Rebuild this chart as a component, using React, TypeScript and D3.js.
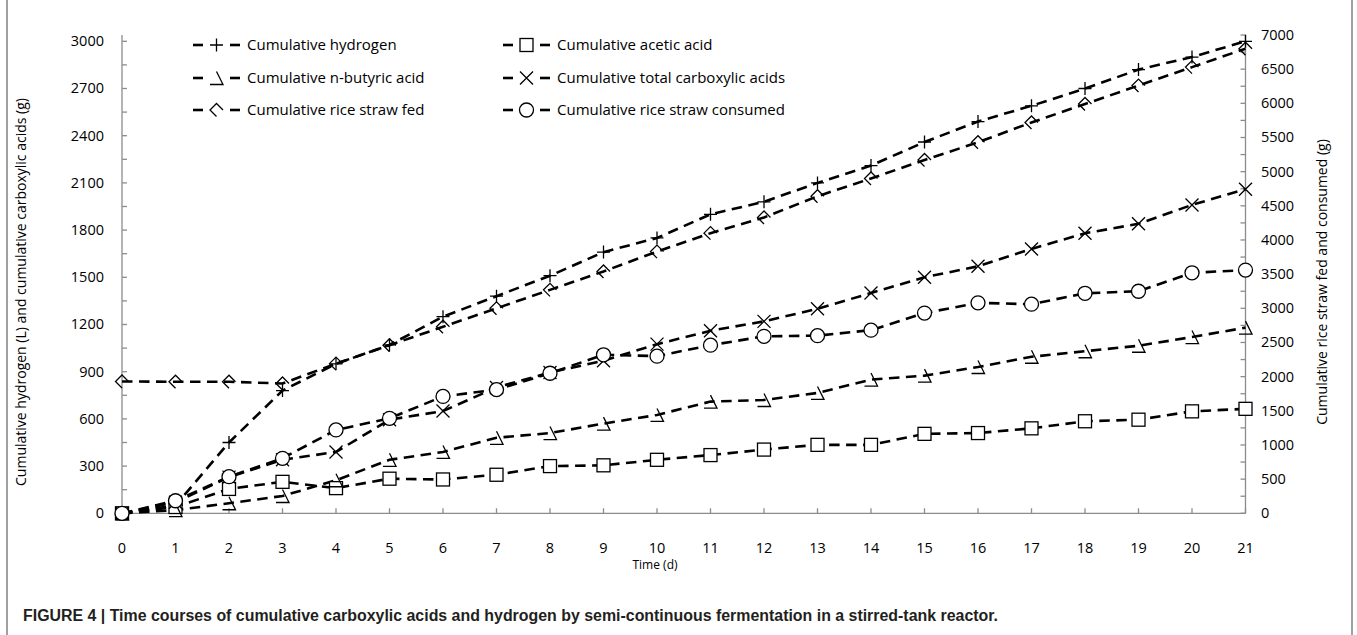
import React from 'react';
import * as d3 from 'd3';

// Time (d)
const days = [0, 1, 2, 3, 4, 5, 6, 7, 8, 9, 10, 11, 12, 13, 14, 15, 16, 17, 18, 19, 20, 21];

// left axis series
const hydrogen = [0, 50, 450, 780, 950, 1070, 1250, 1380, 1510, 1660, 1750, 1900, 1980, 2100, 2210, 2360, 2490, 2590, 2700, 2820, 2900, 3000];
const aceticAcid = [0, 40, 155, 200, 160, 220, 215, 245, 300, 305, 340, 370, 405, 435, 435, 505, 510, 540, 585, 595, 648, 664];
const butyricAcid = [0, 20, 64, 110, 210, 340, 390, 480, 510, 570, 625, 710, 720, 765, 850, 875, 930, 995, 1030, 1065, 1120, 1180];
const totalAcids = [0, 70, 230, 340, 390, 595, 650, 800, 895, 970, 1075, 1160, 1220, 1300, 1400, 1500, 1570, 1680, 1780, 1840, 1960, 2060];

// right axis series
const strawFed = [1930, 1925, 1925, 1900, 2190, 2460, 2730, 3000, 3270, 3540, 3830, 4100, 4330, 4640, 4900, 5170, 5430, 5720, 5990, 6260, 6530, 6800];
const strawConsumed = [0, 184, 536, 805, 1220, 1390, 1710, 1810, 2050, 2320, 2300, 2460, 2590, 2600, 2680, 2930, 3080, 3060, 3220, 3250, 3520, 3560];

const leftTicks = [0, 300, 600, 900, 1200, 1500, 1800, 2100, 2400, 2700, 3000];
const rightTicks = [0, 500, 1000, 1500, 2000, 2500, 3000, 3500, 4000, 4500, 5000, 5500, 6000, 6500, 7000];

type Marker = 'plus' | 'square' | 'triangle' | 'cross' | 'diamond' | 'circle';

const series: { name: string; values: number[]; axis: 'left' | 'right'; marker: Marker }[] = [
  { name: 'Cumulative hydrogen', values: hydrogen, axis: 'left', marker: 'plus' },
  { name: 'Cumulative acetic acid', values: aceticAcid, axis: 'left', marker: 'square' },
  { name: 'Cumulative n-butyric acid', values: butyricAcid, axis: 'left', marker: 'triangle' },
  { name: 'Cumulative total carboxylic acids', values: totalAcids, axis: 'left', marker: 'cross' },
  { name: 'Cumulative rice straw fed', values: strawFed, axis: 'right', marker: 'diamond' },
  { name: 'Cumulative rice straw consumed', values: strawConsumed, axis: 'right', marker: 'circle' },
];

const W = 1357;
const H = 635;
const FONT = '"Open Sans", "DejaVu Sans", sans-serif';
const AXIS = '#8c8c8c';

const x = d3.scaleLinear().domain([0, 21]).range([122, 1245.5]);
const yL = d3.scaleLinear().domain([0, 3040]).range([513.3, 35]);
const yR = d3.scaleLinear().domain([0, 7000]).range([513.3, 35]);

const MarkerShape = ({ type, cx, cy }: { type: Marker; cx: number; cy: number }) => {
  const s = 6.5;
  const common = { stroke: '#000', strokeWidth: 1.3 };
  switch (type) {
    case 'plus':
      return <path d={`M${cx - s},${cy}H${cx + s}M${cx},${cy - s}V${cy + s}`} fill="none" {...common} />;
    case 'cross':
      return <path d={`M${cx - s},${cy - s}L${cx + s},${cy + s}M${cx - s},${cy + s}L${cx + s},${cy - s}`} fill="none" {...common} />;
    case 'square':
      return <rect x={cx - s} y={cy - s} width={2 * s} height={2 * s} fill="#fff" {...common} />;
    case 'circle':
      return <circle cx={cx} cy={cy} r={s + 0.5} fill="#fff" {...common} />;
    case 'triangle':
      return <path d={`M${cx},${cy - s}L${cx + s},${cy + s}L${cx - s},${cy + s}`} fill="none" {...common} />;
    case 'diamond':
      return <path d={`M${cx},${cy + s}L${cx - s},${cy}L${cx},${cy - s}L${cx + s},${cy}`} fill="none" {...common} />;
  }
  return null;
};

const App = () => {
  const line = d3.line<number>().x((_, i) => x(days[i]));

  const leftMinor = d3.range(0, 3001, 150);
  const rightMinor = d3.range(0, 7001, 250);

  const legendCols = [193, 503];
  const legendRows = [45, 78, 110];

  return (
    <div style={{ position: 'absolute', left: 0, top: 0 }}>
      <svg width={W} height={H} style={{ display: 'block', background: '#fff' }}>
        {/* frame */}
        <line x1={7} x2={7} y1={0} y2={H} stroke="#a0a0a0" strokeWidth={2} />
        <line x1={1352} x2={1352} y1={0} y2={H} stroke="#a0a0a0" strokeWidth={2} />

        {/* axes */}
        <g stroke={AXIS} strokeWidth={1.3} fill="none">
          <line x1={x(0)} x2={x(21)} y1={yL(0)} y2={yL(0)} />
          <line x1={x(0)} x2={x(0)} y1={yL(0)} y2={35} />
          <line x1={x(21)} x2={x(21)} y1={yR(0)} y2={yR(7000)} />
          {days.map((d) => (
            <line key={'xt' + d} x1={x(d)} x2={x(d)} y1={yL(0)} y2={yL(0) - 5} />
          ))}
          {leftMinor.map((v) => (
            <line key={'lt' + v} x1={x(0)} x2={x(0) + 5} y1={yL(v)} y2={yL(v)} />
          ))}
          {rightMinor.map((v) => (
            <line key={'rt' + v} x1={x(21)} x2={x(21) - 5} y1={yR(v)} y2={yR(v)} />
          ))}
        </g>

        {/* tick labels */}
        <g fontFamily={FONT} fontSize={14.5} fill="#000">
          {days.map((d) => (
            <text key={'xl' + d} x={x(d)} y={553} textAnchor="middle">{d}</text>
          ))}
          {leftTicks.map((v) => (
            <text key={'ll' + v} x={104} y={yL(v) + 5} textAnchor="end">{v}</text>
          ))}
          {rightTicks.map((v) => (
            <text key={'rl' + v} x={1261} y={yR(v) + 5} textAnchor="start">{v}</text>
          ))}
        </g>

        {/* axis titles */}
        <g fontFamily={FONT} fontSize={14} fill="#000">
          <text x={655} y={569} fontSize={12} textAnchor="middle">Time (d)</text>
          <text transform={`translate(26,${292}) rotate(-90)`} textAnchor="middle">
            Cumulative hydrogen (L) and cumulative carboxylic acids (g)
          </text>
          <text transform={`translate(1327,${282}) rotate(-90)`} textAnchor="middle">
            Cumulative rice straw fed and consumed (g)
          </text>
        </g>

        {/* series lines */}
        {series.map((s) => {
          const y = s.axis === 'left' ? yL : yR;
          return (
            <path
              key={'line' + s.name}
              d={line.y((v) => y(v))(s.values) || ''}
              fill="none"
              stroke="#000"
              strokeWidth={2.6}
              strokeDasharray="10.5,6.5"
            />
          );
        })}

        {/* series markers */}
        {series.map((s) => {
          const y = s.axis === 'left' ? yL : yR;
          return (
            <g key={'mk' + s.name}>
              {s.values.map((v, i) => (
                <MarkerShape key={i} type={s.marker} cx={x(days[i])} cy={y(v)} />
              ))}
            </g>
          );
        })}

        {/* legend */}
        <g fontFamily={FONT} fontSize={15} fill="#000">
          {series.map((s, i) => {
            const lx = legendCols[i % 2];
            const ly = legendRows[Math.floor(i / 2)];
            return (
              <g key={'lg' + s.name}>
                <line x1={lx} x2={lx + 10} y1={ly} y2={ly} stroke="#000" strokeWidth={2.6} />
                <line x1={lx + 37} x2={lx + 47} y1={ly} y2={ly} stroke="#000" strokeWidth={2.6} />
                <MarkerShape type={s.marker} cx={lx + 23.5} cy={ly} />
                <text x={lx + 54} y={ly + 5}>{s.name}</text>
              </g>
            );
          })}
        </g>

        {/* caption */}
        <text
          x={23}
          y={621}
          fontFamily='"Liberation Sans", Arial, sans-serif'
          fontWeight="bold"
          fontSize={16}
          fill="#231f20"
          textLength={975}
          lengthAdjust="spacingAndGlyphs"
        >
          FIGURE 4 | Time courses of cumulative carboxylic acids and hydrogen by semi-continuous fermentation in a stirred-tank reactor.
        </text>
      </svg>
    </div>
  );
};

export default App;
